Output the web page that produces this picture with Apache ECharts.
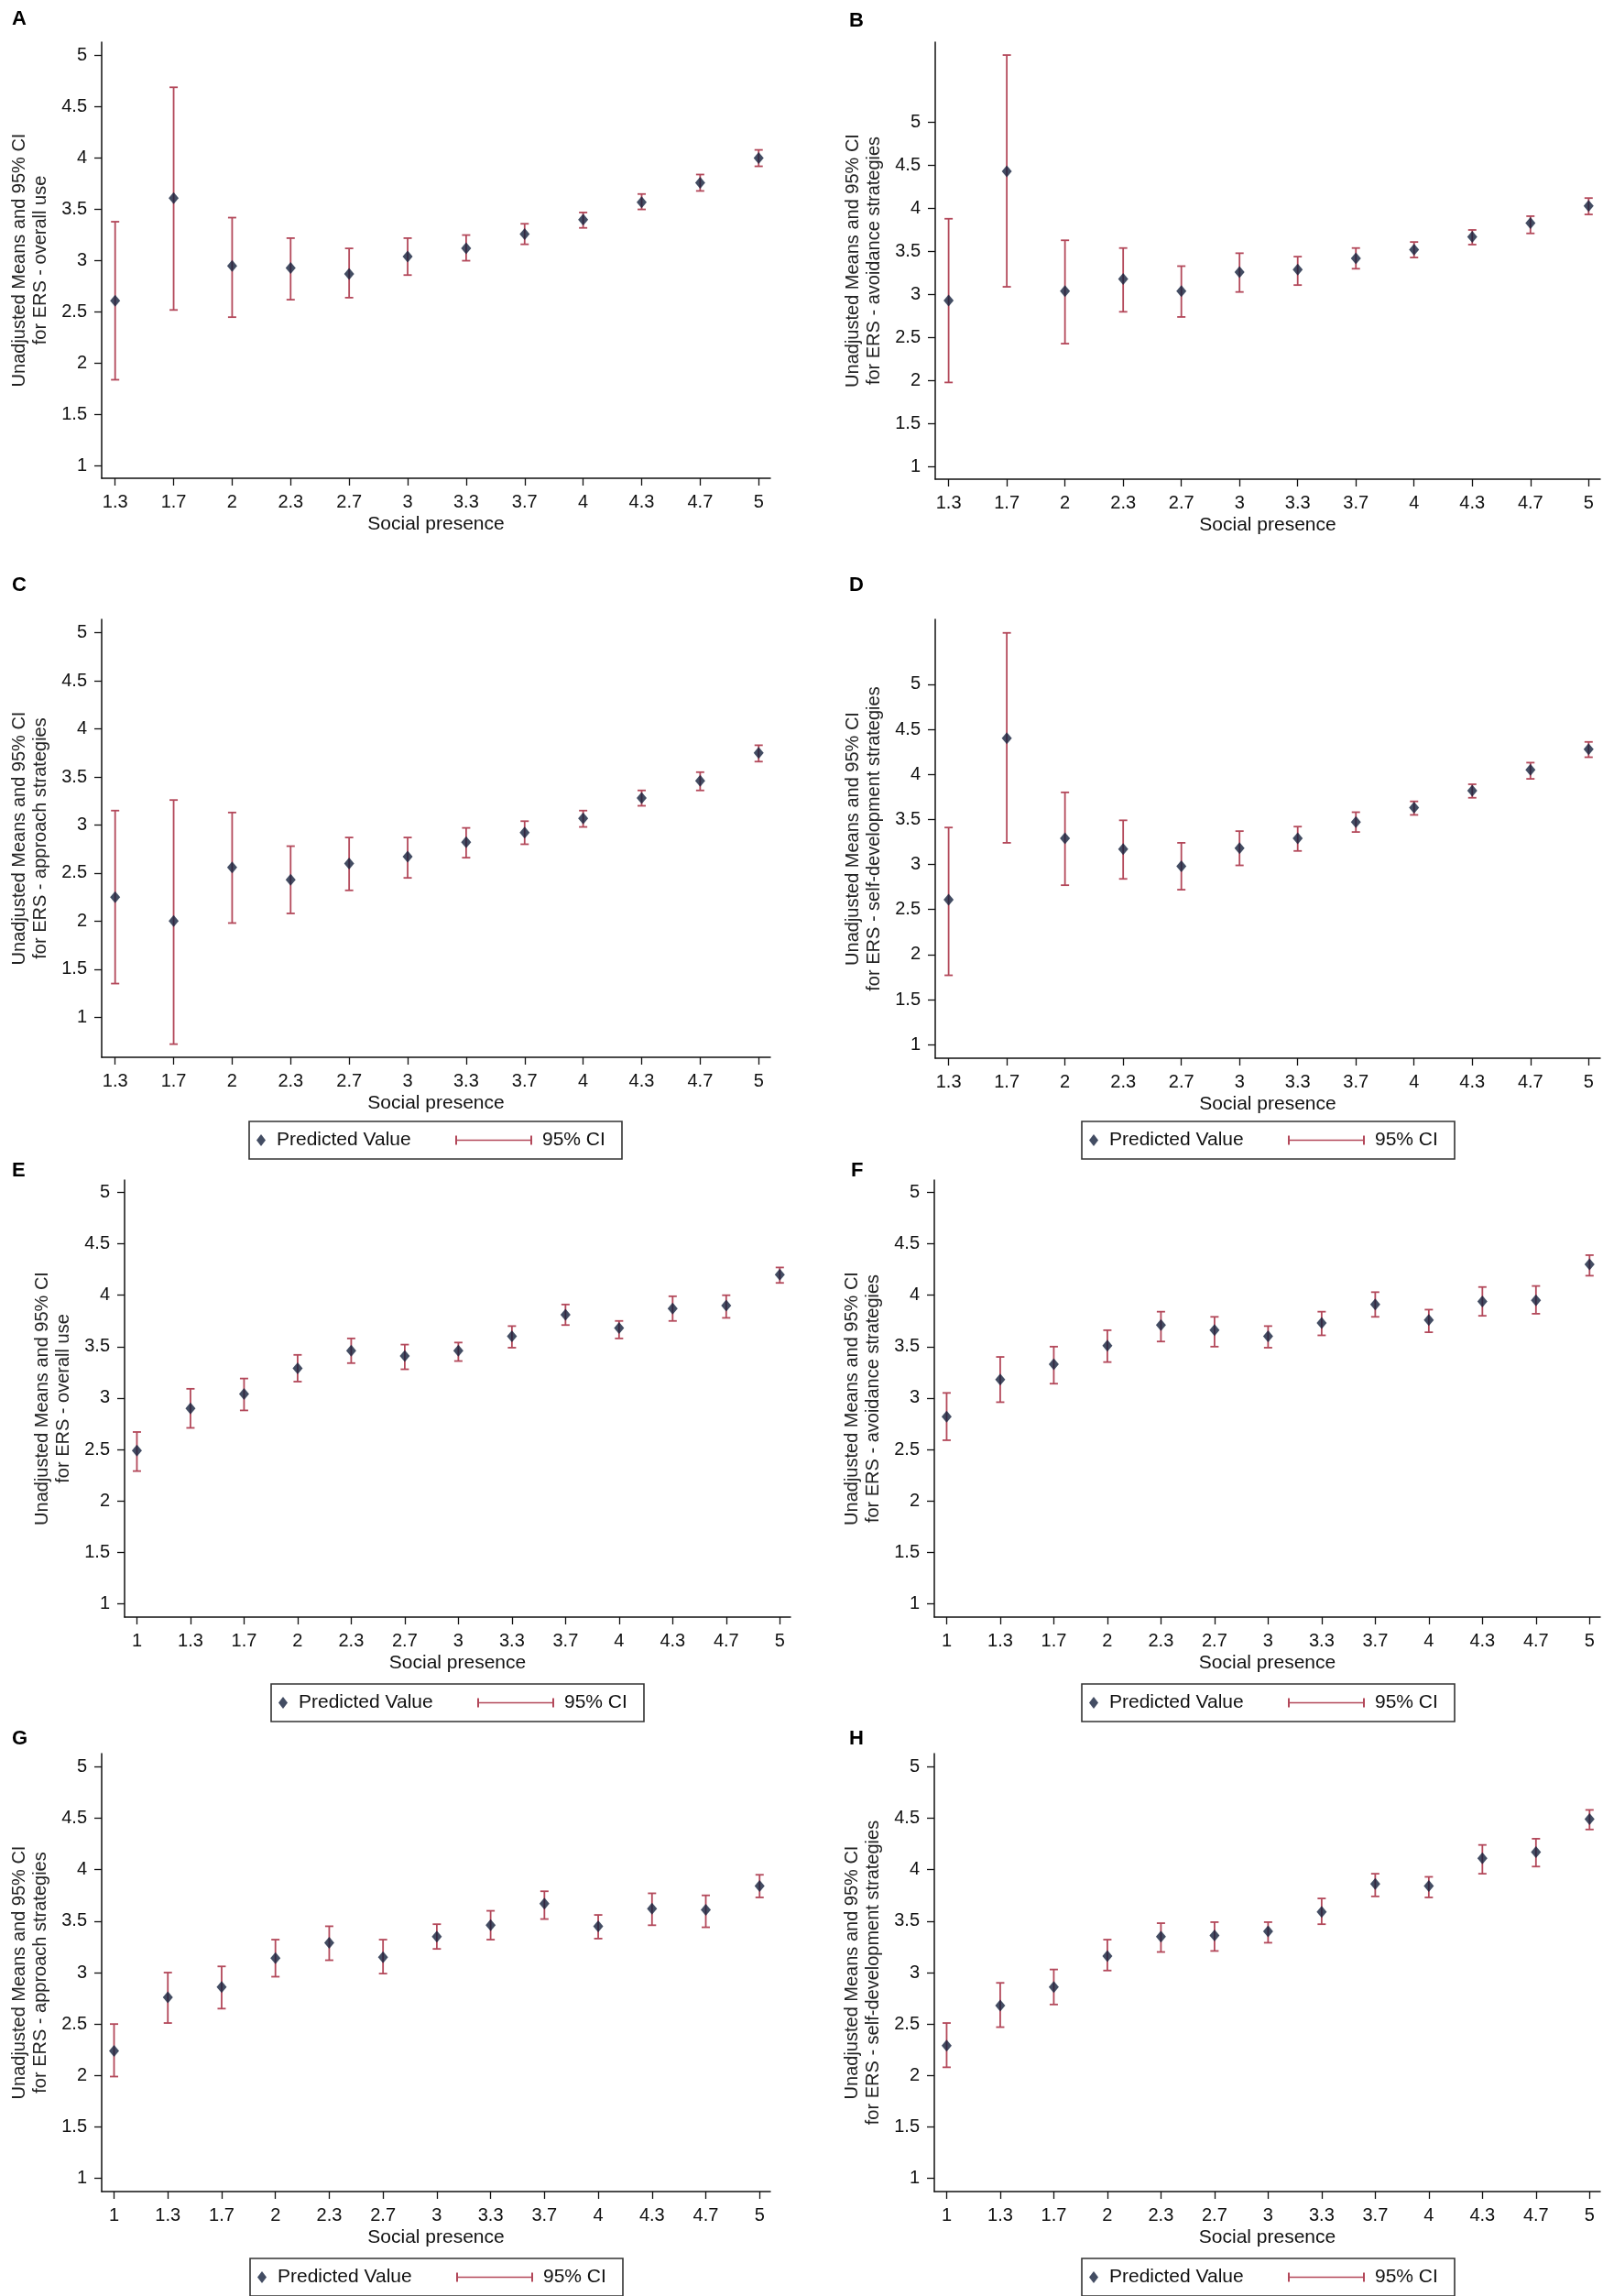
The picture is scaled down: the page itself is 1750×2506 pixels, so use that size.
<!DOCTYPE html>
<html>
<head>
<meta charset="utf-8">
<script src="https://cdn.jsdelivr.net/npm/echarts@6/dist/echarts.min.js"></script>
<style>
  html, body { margin: 0; padding: 0; background: #fff; }
  #chart { width: 1750px; height: 2506px; }
</style>
</head>
<body>
<div id="chart"></div>
<script>
// x categories (social presence)
var cats12 = ['1.3', '1.7', '2', '2.3', '2.7', '3', '3.3', '3.7', '4', '4.3', '4.7', '5'];
var cats13 = ['1', '1.3', '1.7', '2', '2.3', '2.7', '3', '3.3', '3.7', '4', '4.3', '4.7', '5'];
var yTicks = [1, 1.5, 2, 2.5, 3, 3.5, 4, 4.5, 5];

// A - overall use
var aMean = [2.61, 3.61, 2.95, 2.93, 2.87, 3.04, 3.12, 3.26, 3.40, 3.57, 3.76, 4.00];
var aLow  = [1.84, 2.52, 2.45, 2.62, 2.64, 2.86, 3.00, 3.16, 3.32, 3.50, 3.68, 3.92];
var aHigh = [3.38, 4.69, 3.42, 3.22, 3.12, 3.22, 3.25, 3.36, 3.47, 3.65, 3.84, 4.08];
// B - avoidance strategies
var bMean = [2.93, 4.43, 3.04, 3.18, 3.04, 3.26, 3.29, 3.42, 3.52, 3.67, 3.83, 4.03];
var bLow  = [1.98, 3.09, 2.43, 2.80, 2.74, 3.03, 3.11, 3.30, 3.43, 3.58, 3.71, 3.93];
var bHigh = [3.88, 5.78, 3.63, 3.54, 3.33, 3.48, 3.44, 3.54, 3.61, 3.75, 3.91, 4.12];
// C - approach strategies
var cMean = [2.25, 2.00, 2.56, 2.43, 2.60, 2.67, 2.82, 2.92, 3.07, 3.28, 3.46, 3.75];
var cLow  = [1.35, 0.72, 1.98, 2.08, 2.32, 2.45, 2.66, 2.80, 2.98, 3.20, 3.36, 3.66];
var cHigh = [3.15, 3.26, 3.13, 2.78, 2.87, 2.87, 2.97, 3.04, 3.15, 3.36, 3.55, 3.83];
// D - self-development strategies
var dMean = [2.61, 4.40, 3.29, 3.17, 2.98, 3.18, 3.29, 3.47, 3.63, 3.82, 4.05, 4.28];
var dLow  = [1.77, 3.24, 2.77, 2.84, 2.72, 2.99, 3.15, 3.36, 3.55, 3.74, 3.95, 4.19];
var dHigh = [3.41, 5.57, 3.80, 3.49, 3.24, 3.37, 3.42, 3.58, 3.70, 3.89, 4.13, 4.36];
// E - overall use
var eMean = [2.49, 2.90, 3.04, 3.29, 3.46, 3.41, 3.46, 3.60, 3.81, 3.68, 3.87, 3.90, 4.20];
var eLow  = [2.29, 2.71, 2.88, 3.16, 3.34, 3.28, 3.36, 3.49, 3.71, 3.58, 3.75, 3.78, 4.12];
var eHigh = [2.67, 3.09, 3.19, 3.42, 3.58, 3.52, 3.54, 3.70, 3.91, 3.75, 3.99, 4.00, 4.27];
// F - avoidance strategies
var fMean = [2.82, 3.18, 3.33, 3.51, 3.71, 3.66, 3.60, 3.73, 3.91, 3.76, 3.94, 3.95, 4.30];
var fLow  = [2.59, 2.96, 3.14, 3.35, 3.55, 3.50, 3.49, 3.61, 3.79, 3.64, 3.80, 3.82, 4.19];
var fHigh = [3.05, 3.40, 3.50, 3.66, 3.84, 3.79, 3.70, 3.84, 4.03, 3.86, 4.08, 4.09, 4.39];
// G - approach strategies
var gMean = [2.24, 2.76, 2.86, 3.14, 3.29, 3.15, 3.35, 3.46, 3.67, 3.45, 3.62, 3.61, 3.84];
var gLow  = [1.99, 2.51, 2.65, 2.96, 3.12, 2.99, 3.23, 3.32, 3.52, 3.33, 3.46, 3.44, 3.73];
var gHigh = [2.50, 3.00, 3.06, 3.32, 3.45, 3.32, 3.47, 3.60, 3.79, 3.56, 3.77, 3.75, 3.95];
// H - self-development strategies
var hMean = [2.29, 2.68, 2.86, 3.16, 3.35, 3.36, 3.40, 3.59, 3.86, 3.84, 4.11, 4.17, 4.49];
var hLow  = [2.08, 2.47, 2.69, 3.02, 3.20, 3.21, 3.29, 3.47, 3.74, 3.73, 3.96, 4.03, 4.39];
var hHigh = [2.51, 2.90, 3.03, 3.32, 3.48, 3.49, 3.49, 3.72, 3.96, 3.93, 4.24, 4.30, 4.58];

var T1 = 'Unadjusted Means and 95% CI';
var panels = [
  { key: 'A', cats: cats12, mean: aMean, low: aLow, high: aHigh, sub: 'for ERS - overall use',
    box: [111, 46, 730, 476], y: [0.88, 5.13], letter: [13, 10] },
  { key: 'B', cats: cats12, mean: bMean, low: bLow, high: bHigh, sub: 'for ERS - avoidance strategies',
    box: [1021, 46, 726, 477], y: [0.857, 5.93], letter: [927, 12] },
  { key: 'C', cats: cats12, mean: cMean, low: cLow, high: cHigh, sub: 'for ERS - approach strategies',
    box: [111, 676, 730, 478], y: [0.583, 5.14], letter: [13, 628], legend: [272, 1224] },
  { key: 'D', cats: cats12, mean: dMean, low: dLow, high: dHigh, sub: 'for ERS - self-development strategies',
    box: [1021, 676, 726, 479], y: [0.85, 5.72], letter: [927, 628], legend: [1181, 1224] },
  { key: 'E', cats: cats13, mean: eMean, low: eLow, high: eHigh, sub: 'for ERS - overall use',
    box: [136, 1288, 727, 477], y: [0.87, 5.12], letter: [13, 1267], legend: [296, 1838] },
  { key: 'F', cats: cats13, mean: fMean, low: fLow, high: fHigh, sub: 'for ERS - avoidance strategies',
    box: [1020, 1288, 727, 477], y: [0.87, 5.12], letter: [929, 1267], legend: [1181, 1838] },
  { key: 'G', cats: cats13, mean: gMean, low: gLow, high: gHigh, sub: 'for ERS - approach strategies',
    box: [111, 1914, 730, 478], y: [0.873, 5.127], letter: [13, 1887], legend: [273, 2465] },
  { key: 'H', cats: cats13, mean: hMean, low: hLow, high: hHigh, sub: 'for ERS - self-development strategies',
    box: [1020, 1914, 727, 478], y: [0.873, 5.127], letter: [927, 1887], legend: [1181, 2465] }
];

var FONT = '"Liberation Sans", Arial, sans-serif';
var ciColor = '#b3485a';
var dotColor = '#14203c';
var axisColor = '#111';
var ciIcon = 'path://M0,0H2V4.2H82V0H84V10H82V5.8H2V10H0Z';

function renderCI(params, api) {
  var x = api.value(0);
  var lo = api.coord([x, api.value(1)]);
  var hi = api.coord([x, api.value(2)]);
  var w = 4.5;
  var st = { stroke: ciColor, lineWidth: 1.8 };
  return {
    type: 'group',
    children: [
      { type: 'line', shape: { x1: lo[0], y1: lo[1], x2: hi[0], y2: hi[1] }, style: st },
      { type: 'line', shape: { x1: lo[0] - w, y1: lo[1], x2: lo[0] + w, y2: lo[1] }, style: st },
      { type: 'line', shape: { x1: hi[0] - w, y1: hi[1], x2: hi[0] + w, y2: hi[1] }, style: st }
    ]
  };
}

var grids = [], xAxes = [], yAxes = [], series = [], titles = [], legends = [], graphics = [];

panels.forEach(function (p, k) {
  var n = p.cats.length;
  var idx = p.cats.map(function (c, i) { return i; });
  grids.push({ left: p.box[0], top: p.box[1], width: p.box[2], height: p.box[3], containLabel: false });
  xAxes.push({
    type: 'value', gridIndex: k, min: -0.23, max: n - 1 + 0.2,
    name: 'Social presence', nameLocation: 'middle', nameGap: 40, nameMoveOverlap: false,
    nameTextStyle: { fontFamily: FONT, fontSize: 21, color: axisColor, lineHeight: 21 },
    axisLine: { show: true, onZero: false, lineStyle: { color: axisColor, width: 1.5 } },
    axisTick: { show: true, length: 8, customValues: idx, lineStyle: { color: axisColor, width: 1.3 } },
    axisLabel: {
      customValues: idx, margin: 16, fontFamily: FONT, fontSize: 20, color: axisColor,
      formatter: (function (cats) { return function (v) { return cats[Math.round(v)]; }; })(p.cats)
    },
    splitLine: { show: false }
  });
  yAxes.push({
    type: 'value', gridIndex: k, min: p.y[0], max: p.y[1],
    name: T1 + '\n' + p.sub, nameLocation: 'middle', nameGap: 55, nameMoveOverlap: false,
    nameTextStyle: { fontFamily: FONT, fontSize: 20, color: '#222', lineHeight: 23 },
    axisLine: { show: true, onZero: false, lineStyle: { color: axisColor, width: 1.5 } },
    axisTick: { show: true, length: 8, customValues: yTicks, lineStyle: { color: axisColor, width: 1.3 } },
    axisLabel: { customValues: yTicks, margin: 16, fontFamily: FONT, fontSize: 20, color: axisColor },
    splitLine: { show: false }
  });
  series.push({
    name: '95% CI', type: 'custom', xAxisIndex: k, yAxisIndex: k,
    renderItem: renderCI, itemStyle: { color: ciColor },
    encode: { x: 0, y: [1, 2] },
    data: idx.map(function (i) { return [i, p.low[i], p.high[i]]; }),
    z: 2
  });
  series.push({
    name: 'Predicted Value', type: 'scatter', xAxisIndex: k, yAxisIndex: k,
    symbol: 'diamond', symbolSize: [11, 13],
    itemStyle: { color: dotColor },
    data: idx.map(function (i) { return [i, p.mean[i]]; }),
    z: 3
  });
  titles.push({
    text: p.key, left: p.letter[0], top: p.letter[1], padding: 0,
    textStyle: { fontFamily: FONT, fontSize: 22, fontWeight: 'bold', color: '#000' }
  });
  if (p.legend) {
    var bx = p.legend[0], by = p.legend[1];
    graphics.push({
      type: 'rect', shape: { x: bx, y: by, width: 407, height: 41 },
      style: { fill: 'none', stroke: '#333', lineWidth: 1.6 }
    });
    legends.push({
      left: bx + 8, top: by + 8.5, padding: 0, selectedMode: false,
      itemWidth: 10, itemHeight: 13,
      data: [{ name: 'Predicted Value', icon: 'diamond' }],
      textStyle: { fontFamily: FONT, fontSize: 21, color: '#111', lineHeight: 24, padding: [0, 0, 0, 7] }
    });
    legends.push({
      left: bx + 225, top: by + 8.5, padding: 0, selectedMode: false,
      itemWidth: 86, itemHeight: 10,
      data: [{ name: '95% CI', icon: ciIcon }],
      textStyle: { fontFamily: FONT, fontSize: 21, color: '#111', lineHeight: 24, padding: [0, 0, 0, 5] }
    });
  }
});

var chart = echarts.init(document.getElementById('chart'));
chart.setOption({
  backgroundColor: '#fff',
  animation: false,
  title: titles,
  legend: legends,
  grid: grids,
  xAxis: xAxes,
  yAxis: yAxes,
  series: series,
  graphic: graphics
});
</script>
</body>
</html>
